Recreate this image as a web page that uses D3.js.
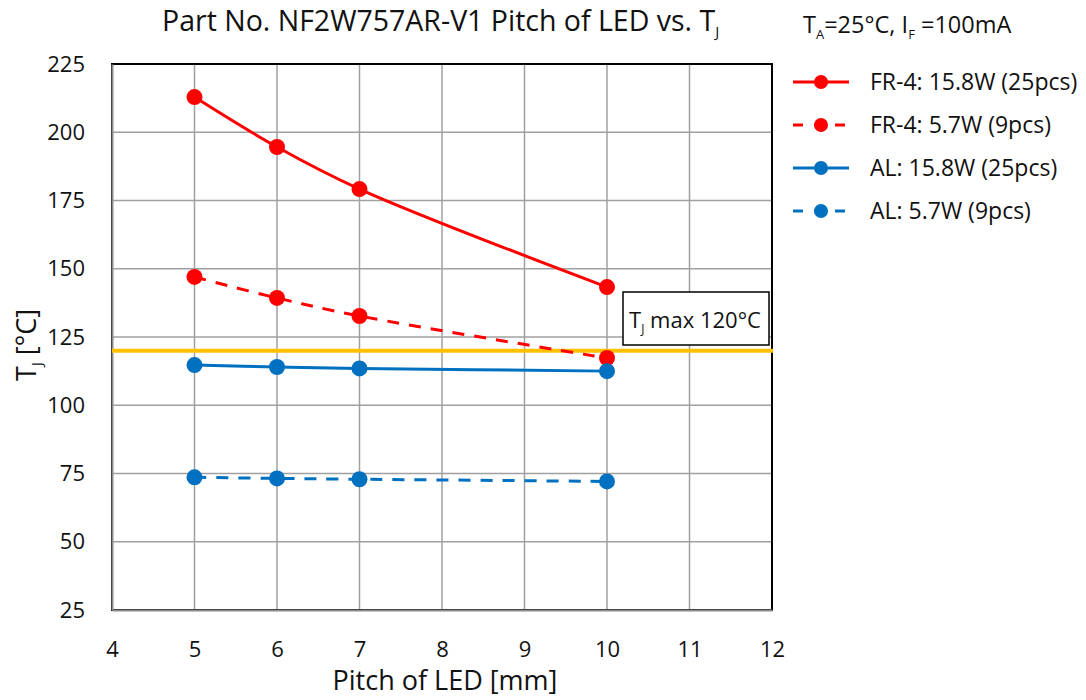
<!DOCTYPE html>
<html>
<head>
<meta charset="utf-8">
<script src="https://cdn.jsdelivr.net/npm/d3@7"></script>
<style>
  body { margin: 0; background: #fff; }
  text { font-family: "Open Sans", "Noto Sans", sans-serif; fill: #111; }
</style>
</head>
<body>
<div id="chart"></div>
<script>
var pitch = [5, 6, 7, 10];
var fr4High = [212.9, 194.6, 179.2, 143.3];
var fr4Low  = [147.0, 139.3, 132.7, 117.3];
var alHigh  = [114.7, 114.0, 113.5, 112.5];
var alLow   = [73.6, 73.2, 72.9, 72.1];
var xTicks = [4, 5, 6, 7, 8, 9, 10, 11, 12];
var yTicks = [25, 50, 75, 100, 125, 150, 175, 200, 225];
var tjMax = 120;

var series = [
  {name: "FR-4: 15.8W (25pcs)", values: fr4High, color: "#ff0000", dash: null},
  {name: "FR-4: 5.7W (9pcs)",   values: fr4Low,  color: "#ff0000", dash: "12,10"},
  {name: "AL: 15.8W (25pcs)",   values: alHigh,  color: "#0070c0", dash: null},
  {name: "AL: 5.7W (9pcs)",     values: alLow,   color: "#0070c0", dash: "12,10"}
];

var width = 1086, height = 700;
var plotL = 112, plotR = 772, plotT = 64, plotB = 610;

var svg = d3.select("#chart").append("svg")
            .attr("width", width)
            .attr("height", height);

var x = d3.scaleLinear().domain([4, 12]).range([plotL, plotR]);
var y = d3.scaleLinear().domain([25, 225]).range([plotB, plotT]);

// grid
var grid = svg.append("g");
grid.selectAll("line.v")
    .data(xTicks)
    .enter()
    .append("line")
    .attr("x1", function (d) { return x(d); })
    .attr("x2", function (d) { return x(d); })
    .attr("y1", plotT)
    .attr("y2", plotB)
    .attr("stroke", "#a0a0a0")
    .attr("stroke-width", 1.5);
grid.selectAll("line.h")
    .data(yTicks)
    .enter()
    .append("line")
    .attr("x1", plotL)
    .attr("x2", plotR)
    .attr("y1", function (d) { return y(d); })
    .attr("y2", function (d) { return y(d); })
    .attr("stroke", "#a0a0a0")
    .attr("stroke-width", 1.5);

// plot border (top/right black)
svg.append("rect")
   .attr("x", plotL).attr("y", plotT)
   .attr("width", plotR - plotL).attr("height", plotB - plotT)
   .attr("fill", "none")
   .attr("stroke", "#000")
   .attr("stroke-width", 2);

// axes
var xAxis = svg.append("g")
   .attr("transform", "translate(0," + plotB + ")")
   .call(d3.axisBottom(x).tickValues(xTicks).tickSize(0).tickPadding(31));
var yAxis = svg.append("g")
   .attr("transform", "translate(" + plotL + ",0)")
   .call(d3.axisLeft(y).tickValues(yTicks).tickSize(0).tickPadding(27));
[xAxis, yAxis].forEach(function (a) {
  a.select(".domain").attr("stroke", "#8c8c8c").attr("stroke-width", 2);
  a.selectAll("text").style("font-size", "22px")
   .style("font-family", "'Open Sans', 'Noto Sans', sans-serif").attr("fill", "#111");
});

// TJ max line
svg.append("line")
   .attr("x1", plotL).attr("x2", plotR + 1)
   .attr("y1", y(tjMax)).attr("y2", y(tjMax))
   .attr("stroke", "#ffc000")
   .attr("stroke-width", 4);

// series
var line = d3.line()
    .x(function (d) { return x(d[0]); })
    .y(function (d) { return y(d[1]); })
    .curve(d3.curveCatmullRom.alpha(0.5));

var sg = svg.append("g");
series.forEach(function (s) {
  var pts = pitch.map(function (p, i) { return [p, s.values[i]]; });
  sg.append("path")
    .attr("d", line(pts))
    .attr("fill", "none")
    .attr("stroke", s.color)
    .attr("stroke-width", 3)
    .attr("stroke-dasharray", s.dash);
  sg.selectAll(null)
    .data(pts)
    .enter()
    .append("circle")
    .attr("cx", function (d) { return x(d[0]); })
    .attr("cy", function (d) { return y(d[1]); })
    .attr("r", 8)
    .attr("fill", s.color);
});

// annotation box
svg.append("rect")
   .attr("x", 623).attr("y", 292)
   .attr("width", 146).attr("height", 53)
   .attr("fill", "#fff")
   .attr("stroke", "#000")
   .attr("stroke-width", 1.5);
var ann = svg.append("text")
   .attr("x", 629).attr("y", 328)
   .style("font-size", "22px");
ann.append("tspan").text("T");
ann.append("tspan").attr("dy", 5).style("font-size", "12px").text("J");
ann.append("tspan").attr("dy", -5).text(" max 120°C");

// title
var title = svg.append("text")
   .attr("x", 162).attr("y", 31)
   .style("font-size", "28.5px");
title.append("tspan").text("Part No. NF2W757AR-V1 Pitch of LED vs. T");
title.append("tspan").attr("dy", 6).style("font-size", "15px").text("J");

// conditions
var cond = svg.append("text")
   .attr("x", 803).attr("y", 33)
   .style("font-size", "23.5px");
cond.append("tspan").text("T");
cond.append("tspan").attr("dy", 6).style("font-size", "13px").text("A");
cond.append("tspan").attr("dy", -6).text("=25°C, I");
cond.append("tspan").attr("dy", 6).style("font-size", "13px").text("F");
cond.append("tspan").attr("dy", -6).text(" =100mA");

// axis titles
svg.append("text")
   .attr("x", (plotL + plotR) / 2 + 3).attr("y", 690)
   .attr("text-anchor", "middle")
   .style("font-size", "27px")
   .text("Pitch of LED [mm]");
var yt = svg.append("text")
   .attr("transform", "translate(36,345) rotate(-90)")
   .attr("text-anchor", "middle")
   .style("font-size", "27px");
yt.append("tspan").text("T");
yt.append("tspan").attr("dy", 6).style("font-size", "15px").text("J");
yt.append("tspan").attr("dy", -6).text(" [°C]");

// legend
var legend = svg.append("g")
   .selectAll("g")
   .data(series)
   .enter()
   .append("g")
   .attr("transform", function (d, i) { return "translate(793," + (82 + i * 43) + ")"; });
legend.append("line")
   .attr("x1", 0).attr("x2", 56)
   .attr("stroke", function (d) { return d.color; })
   .attr("stroke-width", 3)
   .attr("stroke-dasharray", function (d) { return d.dash ? "10,11" : null; });
legend.append("circle")
   .attr("cx", 28).attr("r", 7)
   .attr("fill", function (d) { return d.color; });
legend.append("text")
   .attr("x", 77).attr("dy", "0.35em")
   .style("font-size", "23px")
   .text(function (d) { return d.name; });
</script>
</body>
</html>
